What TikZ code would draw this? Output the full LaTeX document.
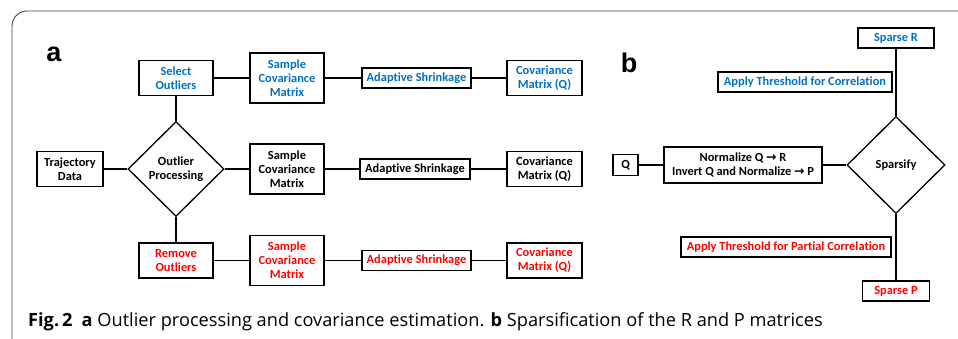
\documentclass[tikz,border=0pt]{standalone}
\usepackage{fontspec}
\setmainfont{Carlito}[Ligatures={NoCommon,NoContextual}]
\newfontfamily\capfont{Open Sans}
\newfontfamily\labfont{Liberation Sans}
\newfontfamily\arrfont{DejaVu Sans}
\usetikzlibrary{shapes.geometric}
\definecolor{selblue}{RGB}{0,112,192}
\definecolor{remred}{RGB}{255,0,0}
\newcommand{\toarr}{{\arrfont\bfseries\fontsize{12.5}{14}\selectfont →}}
\begin{document}
\begin{tikzpicture}[x=1pt, y=-1pt,
      every node/.append style={font=\bfseries\fontsize{12.4}{14}\selectfont},
      box/.style={draw, line width=1.3pt, inner sep=0pt, align=center},
      decide/.style={draw, diamond, line width=1.3pt, inner sep=0pt, align=center},
      link/.style={line width=1.7pt},
      blue/.style={text=selblue},
      red/.style={text=remred}]
    \tikzstyle{panel} = [font=\labfont\bfseries\fontsize{27}{27}\selectfont]
    \useasboundingbox (0,0) rectangle (958,339);
    \draw[black!75, line width=0.9pt, rounded corners=15pt] (12,339) |- (958,11);
    \node[panel] (a_lab) at (54,54) {a};
    \node[panel] (b_lab) at (629,63) {b};
    % panel a
    \node[box, minimum width=66pt, minimum height=35pt] (traj) at (70,169) {Trajectory\\Data};
    \node[decide, minimum width=96pt, minimum height=95pt] (proc) at (176,169) {Outlier\\Processing};
    % upper row
    \node[box, blue, minimum width=74pt, minimum height=35pt] (select) at (176,78) {Select\\Outliers};
    \node[box, blue, minimum width=74pt, minimum height=50pt] (samp_up) at (287,78) {Sample\\Covariance\\Matrix};
    \node[box, blue, minimum width=109pt, minimum height=20pt] (shrink_up) at (416.5,78) {Adaptive Shrinkage};
    \node[box, blue, minimum width=75pt, minimum height=35pt] (cov_up) at (544.5,78) {Covariance\\Matrix (Q)};
    % middle row
    \node[box, minimum width=74pt, minimum height=50pt] (samp_mid) at (287,169) {Sample\\Covariance\\Matrix};
    \node[box, minimum width=110pt, minimum height=20pt] (shrink_mid) at (415,169) {Adaptive Shrinkage};
    \node[box, minimum width=75pt, minimum height=35pt] (cov_mid) at (544.5,169) {Covariance\\Matrix (Q)};
    % lower row
    \node[box, red, minimum width=74pt, minimum height=35pt] (remove) at (176,260.5) {Remove\\Outliers};
    \node[box, red, minimum width=74pt, minimum height=50pt] (samp_low) at (287,260.5) {Sample\\Covariance\\Matrix};
    \node[box, red, minimum width=109pt, minimum height=20pt] (shrink_low) at (416.5,260.5) {Adaptive Shrinkage};
    \node[box, red, minimum width=75pt, minimum height=35pt] (cov_low) at (544.5,260.5) {Covariance\\Matrix (Q)};
    % panel b
    \node[box, minimum width=25pt, minimum height=21pt] (q) at (625.5,165) {Q};
    \node[box, minimum width=158pt, minimum height=36pt] (norm) at (743,165) {Normalize Q \toarr{} R\\Invert Q and Normalize \toarr{} P};
    \node[decide, minimum width=98pt, minimum height=97pt] (sparsify) at (896,165) {Sparsify};
    \node[box, blue, minimum width=76pt, minimum height=20pt] (sparse_r) at (896,38) {Sparse R};
    \node[box, blue, minimum width=174pt, minimum height=20pt] (thr_r) at (805,82) {Apply Threshold for Correlation};
    \node[box, red, minimum width=210pt, minimum height=20pt] (thr_p) at (786,247) {Apply Threshold for Partial Correlation};
    \node[box, red, minimum width=67pt, minimum height=20pt] (sparse_p) at (896,291) {Sparse P};
    % caption
    \node[anchor=base west, inner sep=0pt, font=\capfont\fontsize{18.2}{22}\selectfont] (caption) at (28,326)
      {\textbf{Fig.\,2}\enspace\textbf{a} Outlier processing and covariance estimation. \textbf{b} Sparsification of the R and P matrices};
    % connectors
    \draw[link] (traj) -- (proc);
    \draw[link] (select) -- (proc);
    \draw[link] (proc) -- (remove);
    \draw[link] (proc) -- (samp_mid);
    \draw[link] (select) -- (samp_up) -- (shrink_up) -- (cov_up);
    \draw[link] (samp_mid) -- (shrink_mid) -- (cov_mid);
    \draw[link] (remove) -- (samp_low) -- (shrink_low) -- (cov_low);
    \draw[link] (q) -- (norm);
    \draw[link] (norm) -- (sparsify);
    \draw[link] (sparsify) -- (sparse_r);
    \draw[link] (sparsify) -- (sparse_p);
\end{tikzpicture}
\end{document}
